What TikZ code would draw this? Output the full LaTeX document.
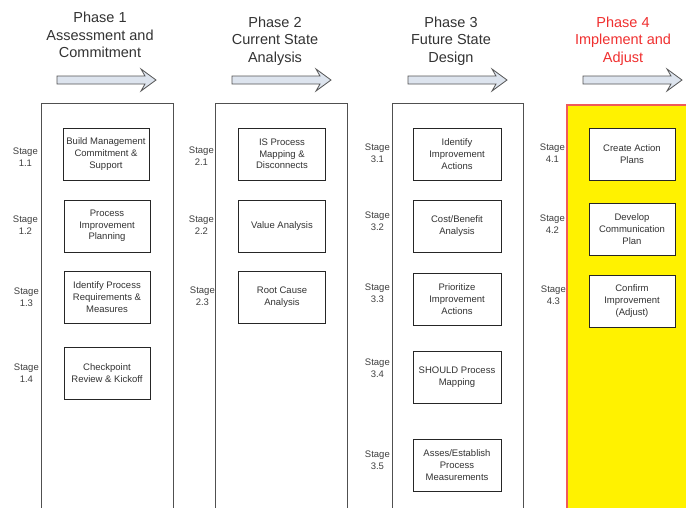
\documentclass[tikz,border=0pt]{standalone}
\usepackage{fontspec}
\setmainfont{Liberation Sans}
\definecolor{txt}{HTML}{333333}
\definecolor{stagetxt}{HTML}{404040}
\definecolor{arrowfill}{HTML}{DDE4EE}
\definecolor{arrowline}{HTML}{555555}
\definecolor{colline}{HTML}{505050}
\definecolor{hotred}{HTML}{F03030}
\definecolor{redline}{HTML}{F05A5A}
\begin{document}
\begin{tikzpicture}[x=1pt,y=-1pt,
  phasehead/.style={align=center,text=txt,font=\fontsize{14.5}{17.5}\selectfont},
  stagelabel/.style={anchor=east,align=center,text=stagetxt,inner sep=0pt,
    font=\fontsize{9.5}{11.5}\selectfont},
  stagebox/.style={draw=black!85,line width=0.8pt,fill=white,align=center,
    text=txt,minimum width=87,minimum height=52,inner sep=1pt,
    font=\fontsize{9.5}{11.7}\selectfont},
  column/.style={draw=colline,line width=1pt,fill=white},
  phasearrow/.pic={
    \draw[fill=arrowfill,draw=arrowline,line width=0.8pt,line join=miter]
      (0,-4) -- (88,-4) -- (84,-11) -- (99,0) -- (84,11) -- (88,4) -- (0,4) -- cycle;
  }]
\useasboundingbox (0,0) rectangle (686,507);
\clip (0,0) rectangle (686,507);
\fill[white] (0,0) rectangle (686,507);

% phase columns
\draw[column] (41,103) rectangle (173,520);
\draw[column] (215,103) rectangle (347,520);
\draw[column] (392,103) rectangle (523,520);
\draw[fill=yellow,draw=redline,line width=1.5pt] (567,105) rectangle (700,520);

% phase headings
\node[phasehead] (h1) at (100,35) {Phase 1\\Assessment and\\Commitment};
\node[phasehead] (h2) at (275,41) {Phase 2\\Current State\\Analysis};
\node[phasehead] (h3) at (451,41) {Phase 3\\Future State\\Design};
\node[phasehead,text=hotred] (h4) at (623,41) {Phase 4\\Implement and\\Adjust};

% phase arrows
\pic at (57,80) {phasearrow};
\pic at (232,80) {phasearrow};
\pic at (408,80) {phasearrow};
\pic at (583,80) {phasearrow};

% phase 1 stages
\node[stagebox,minimum width=86] (b11) at (106,154) {Build Management\\Commitment \&\\Support};
\node[stagebox,minimum width=86] (b12) at (107,226) {Process\\Improvement\\Planning};
\node[stagebox,minimum width=86] (b13) at (107,297) {Identify Process\\Requirements \&\\Measures};
\node[stagebox,minimum width=86] (b14) at (107,373) {Checkpoint\\Review \& Kickoff};
\node[stagelabel] (s11) at (38,157) {Stage\\1.1};
\node[stagelabel] (s12) at (38,225) {Stage\\1.2};
\node[stagelabel] (s13) at (39,297) {Stage\\1.3};
\node[stagelabel] (s14) at (39,373) {Stage\\1.4};

% phase 2 stages
\node[stagebox] (b21) at (282,154) {IS Process\\Mapping \&\\Disconnects};
\node[stagebox] (b22) at (282,226) {Value Analysis};
\node[stagebox] (b23) at (282,297) {Root Cause\\Analysis};
\node[stagelabel] (s21) at (214,156) {Stage\\2.1};
\node[stagelabel] (s22) at (214,225) {Stage\\2.2};
\node[stagelabel] (s23) at (215,296) {Stage\\2.3};

% phase 3 stages
\node[stagebox,minimum width=88] (b31) at (457,154) {Identify\\Improvement\\Actions};
\node[stagebox,minimum width=88] (b32) at (457,226) {Cost/Benefit\\Analysis};
\node[stagebox,minimum width=88] (b33) at (457,299) {Prioritize\\Improvement\\Actions};
\node[stagebox,minimum width=88] (b34) at (457,377) {SHOULD Process\\Mapping};
\node[stagebox,minimum width=88] (b35) at (457,465) {Asses/Establish\\Process\\Measurements};
\node[stagelabel] (s31) at (390,153) {Stage\\3.1};
\node[stagelabel] (s32) at (390,221) {Stage\\3.2};
\node[stagelabel] (s33) at (390,293) {Stage\\3.3};
\node[stagelabel] (s34) at (390,368) {Stage\\3.4};
\node[stagelabel] (s35) at (390,460) {Stage\\3.5};

% phase 4 stages
\node[stagebox,minimum width=86] (b41) at (632,154) {Create Action\\Plans};
\node[stagebox,minimum width=86] (b42) at (632,229) {Develop\\Communication\\Plan};
\node[stagebox,minimum width=86] (b43) at (632,301) {Confirm\\Improvement\\(Adjust)};
\node[stagelabel] (s41) at (565,153) {Stage\\4.1};
\node[stagelabel] (s42) at (565,224) {Stage\\4.2};
\node[stagelabel] (s43) at (566,295) {Stage\\4.3};
\end{tikzpicture}
\end{document}
